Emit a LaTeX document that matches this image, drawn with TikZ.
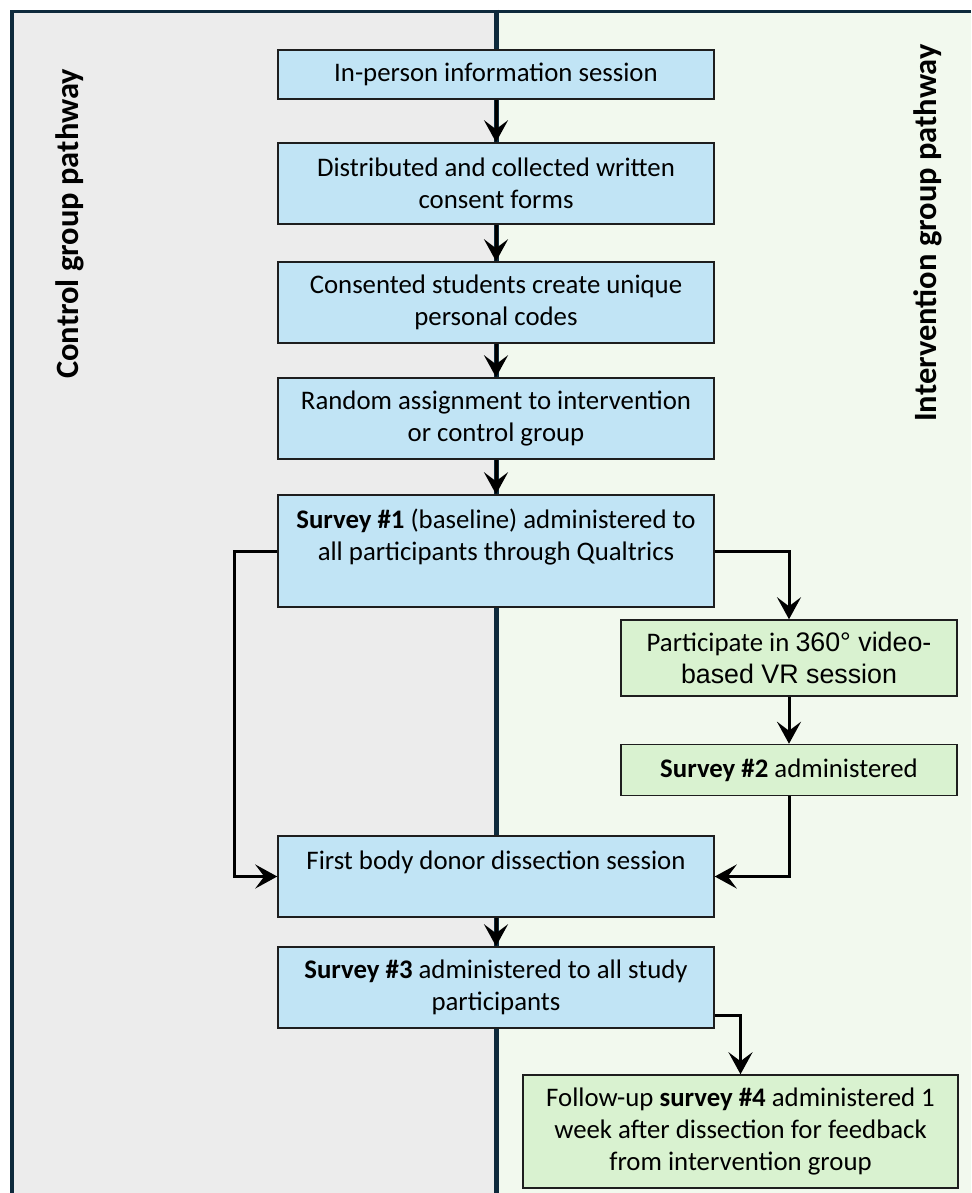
\documentclass[tikz,border=0pt]{standalone}
\usepackage{fontspec}
\setmainfont{Carlito}
\newfontfamily\arialf{Liberation Sans}
\usetikzlibrary{arrows.meta}
\definecolor{panelgray}{HTML}{ECECEC}
\definecolor{panelgreen}{HTML}{F2F9EE}
\definecolor{boxblue}{HTML}{C1E4F5}
\definecolor{boxgreen}{HTML}{D9F2D0}
\definecolor{frameblue}{HTML}{0E2A3C}
\definecolor{boxline}{HTML}{1E1E1E}
\begin{document}
\begin{tikzpicture}[x=1pt,y=-1pt,
  basebox/.style={draw=boxline, line width=1.5pt, align=center, inner sep=0pt,
    font=\fontsize{26.8}{32}\selectfont},
  bluebox/.style={basebox, fill=boxblue},
  greenbox/.style={basebox, fill=boxgreen},
  conn/.style={line width=3pt, black, -{Stealth[length=22pt,width=24pt,inset=9pt]}},
  title/.style={rotate=90, font=\bfseries\fontsize{32.5}{36}\selectfont}]
\useasboundingbox (0,0) rectangle (971,1193);
\fill[white] (0,0) rectangle (971,1193);
\fill[panelgray] (10,10) rectangle (496,1193);
\fill[panelgreen] (496,10) rectangle (971,1193);
\draw[frameblue, line width=3.5pt] (11.75,1193) -- (11.75,11.75) -- (971,11.75);
\draw[frameblue, line width=5pt] (496,10) -- (496,1193);

\node[title] (tl) at (70,224) {Control group pathway};
\node[title] (tr) at (928,233) {Intervention group pathway};

\node[bluebox, minimum width=436pt, minimum height=49pt] (b1) at (496,74.5)
  {In-person information session};
\node[bluebox, minimum width=436pt, minimum height=81pt] (b2) at (496,183.5)
  {Distributed and collected written\\consent forms};
\node[bluebox, minimum width=436pt, minimum height=81pt] (b3) at (496,302.5)
  {Consented students create unique\\personal codes};
\node[bluebox, minimum width=436pt, minimum height=81pt] (b4) at (496,418.5)
  {Random assignment to intervention\\or control group};
\node[bluebox, minimum width=436pt, minimum height=112pt] (b5) at (496,551)
  {\textbf{Survey \#1} (baseline) administered to\\all participants through Qualtrics\\\mbox{}};
\node[greenbox, minimum width=336pt, minimum height=76pt] (b6) at (789,658)
  {Participate in {\arialf 360° video-}\\{\arialf based VR session}};
\node[greenbox, minimum width=336pt, minimum height=51pt] (b7) at (789,770)
  {\textbf{Survey \#2} administered};
\node[bluebox, minimum width=436pt, minimum height=81pt] (b8) at (496,876.5)
  {First body donor dissection session\\\mbox{}};
\node[bluebox, minimum width=436pt, minimum height=81pt] (b9) at (496,987.5)
  {\textbf{Survey \#3} administered to all study\\participants};
\node[greenbox, minimum width=435pt, minimum height=113pt] (b10) at (740.5,1131.5)
  {Follow-up \textbf{survey \#4} administered 1\\week after dissection for feedback\\from intervention group};

\draw[conn] (b1.south) -- (b2.north);
\draw[conn] (b2.south) -- (b3.north);
\draw[conn] (b3.south) -- (b4.north);
\draw[conn] (b4.south) -- (b5.north);
\draw[conn] (b8.south) -- (b9.north);
\coordinate (lk) at ([xshift=-43pt]b5.west);
\draw[conn] (b5.west) -- (lk) |- (b8.west);
\draw[conn] (b5.east) -| (b6.north);
\draw[conn] (b6.south) -- (b7.north);
\draw[conn] (b7.south) |- (b8.east);
\coordinate (b9r) at ([yshift=-28pt]b9.east);
\draw[conn] (b9r) -| (b10.north);
\end{tikzpicture}
\end{document}
